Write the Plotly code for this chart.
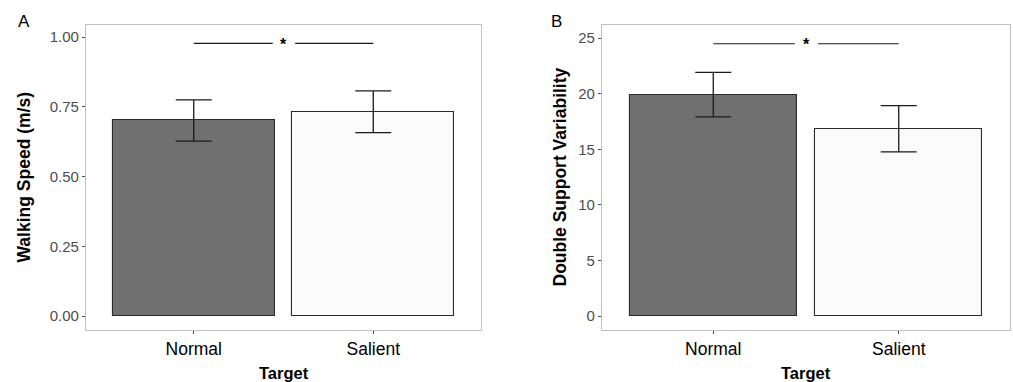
import plotly.graph_objects as go

# ---------------- data ----------------
categories = ["Normal", "Salient"]
speed_mean = [0.701, 0.732]
speed_se = [0.074, 0.075]
dsv_mean = [19.92, 16.85]
dsv_se = [2.00, 2.08]
sig_label = "*"
speed_sig_y = 0.977
dsv_sig_y = 24.5
speed_ticks = [0.0, 0.25, 0.5, 0.75, 1.0]
speed_ticktext = ["0.00", "0.25", "0.50", "0.75", "1.00"]
dsv_ticks = [0, 5, 10, 15, 20, 25]
bar_fills = ["#707070", "#fbfbfb"]

W, H = 1013, 382
FONT = "Liberation Sans, Arial, Helvetica, sans-serif"

def px_x(p):
    return p / W

def px_y(p):
    return 1 - p / H

xpos = list(range(len(categories)))

fig = go.Figure()

panels = [
    dict(xa="x", ya="y", mean=speed_mean, se=speed_se, sig=speed_sig_y,
         dom=[px_x(86), px_x(481)], yr=[-0.050, 1.043], tv=speed_ticks, tt=speed_ticktext,
         ytitle="Walking Speed (m/s)", ytx=24, lab="A", labx=24),
    dict(xa="x2", ya="y2", mean=dsv_mean, se=dsv_se, sig=dsv_sig_y,
         dom=[px_x(602), px_x(1010)], yr=[-1.26, 26.19], tv=dsv_ticks, tt=[str(t) for t in dsv_ticks],
         ytitle="Double Support Variability", ytx=560, lab="B", labx=556),
]

ydom = [px_y(330), px_y(25)]

for i, p in enumerate(panels):
    fig.add_trace(go.Bar(
        x=xpos, y=p["mean"], width=0.9,
        marker=dict(color=bar_fills, line=dict(color="#2b2b2b", width=1.1)),
        error_y=dict(type="data", array=p["se"], visible=True, color="#1a1a1a",
                     thickness=1.3, width=18),
        xaxis=p["xa"], yaxis=p["ya"], showlegend=False, hoverinfo="skip",
    ))
    # significance bar with gap for the star
    fig.add_trace(go.Scatter(
        x=[xpos[0], 0.44, None, 0.565, xpos[1]],
        y=[p["sig"], p["sig"], None, p["sig"], p["sig"]],
        mode="lines", line=dict(color="#1a1a1a", width=1.1),
        xaxis=p["xa"], yaxis=p["ya"], showlegend=False, hoverinfo="skip",
    ))
    fig.add_annotation(x=0.5, y=p["sig"], xref=p["xa"], yref=p["ya"], text=f"<b>{sig_label}</b>",
                       showarrow=False, font=dict(family=FONT, size=16, color="#000"),
                       yanchor="middle", yshift=-1)

    axn = "" if i == 0 else "2"
    fig.update_layout(**{
        f"xaxis{axn}": dict(
            domain=p["dom"], anchor=p["ya"], range=[-0.6, 1.6],
            tickvals=xpos, ticktext=categories,
            tickfont=dict(family=FONT, size=17.5, color="#000"),
            ticks="outside", ticklen=3, tickcolor="#4d4d4d", tickwidth=1,
            showline=True, mirror=True, linecolor="#c2c2c2", linewidth=1.2,
            showgrid=False, zeroline=False, fixedrange=True,
        ),
        f"yaxis{axn}": dict(
            domain=ydom, anchor=p["xa"], range=p["yr"],
            tickvals=p["tv"], ticktext=p["tt"],
            tickfont=dict(family=FONT, size=15, color="#4d4d4d"),
            ticks="outside", ticklen=3, tickcolor="#4d4d4d", tickwidth=1,
            showline=True, mirror=True, linecolor="#c2c2c2", linewidth=1.2,
            showgrid=False, zeroline=False, fixedrange=True,
        ),
    })
    # axis titles
    fig.add_annotation(x=0.5, y=px_y(373), xref=f"{p['xa']} domain", yref="paper",
                       text="<b>Target</b>", showarrow=False,
                       font=dict(family=FONT, size=16.5, color="#000"),
                       xanchor="center", yanchor="middle")
    fig.add_annotation(x=px_x(p["ytx"]), y=(ydom[0] + ydom[1]) / 2, xref="paper", yref="paper",
                       text=f"<b>{p['ytitle']}</b>", showarrow=False, textangle=-90,
                       font=dict(family=FONT, size=17.5, color="#000"),
                       xanchor="center", yanchor="middle")
    # panel label
    fig.add_annotation(x=px_x(p["labx"]), y=px_y(21), xref="paper", yref="paper",
                       text=p["lab"], showarrow=False,
                       font=dict(family=FONT, size=17, color="#000"),
                       xanchor="center", yanchor="middle")

fig.update_layout(
    width=W, height=H,
    margin=dict(l=0, r=0, t=0, b=0),
    paper_bgcolor="white", plot_bgcolor="white",
    bargap=0,
)

fig.write_html(
    "out.html",
    config={"displayModeBar": False},
    post_script="document.body.style.margin='0';document.body.style.overflow='hidden';",
)
